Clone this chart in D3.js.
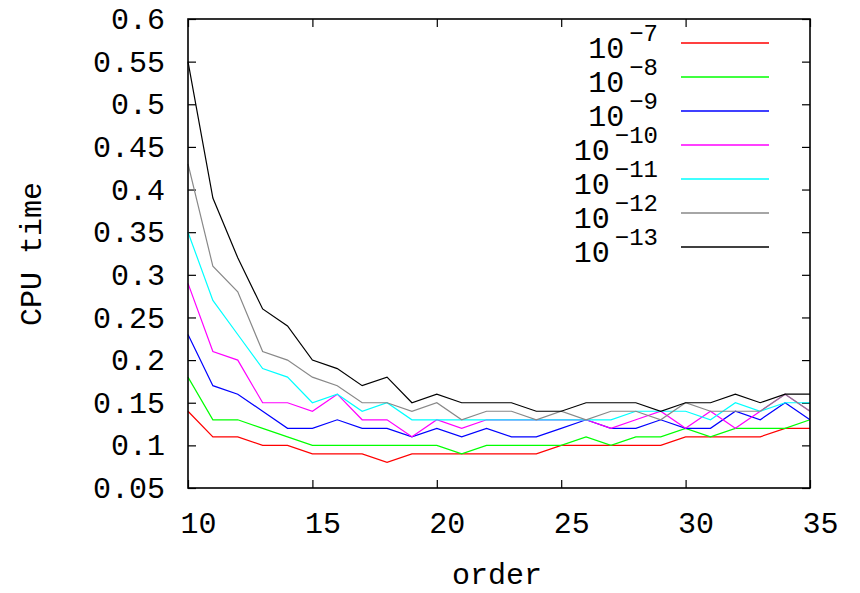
<!DOCTYPE html>
<html>
<head>
<meta charset="utf-8">
<script src="https://cdn.jsdelivr.net/npm/d3@7"></script>
<style>
  html, body { margin: 0; padding: 0; background: #fff; }
  svg text { font-family: "Liberation Mono", "DejaVu Sans Mono", monospace; fill: #000; }
</style>
</head>
<body>
<div id="chart"></div>
<script>
// chart data
const orders = d3.range(10, 36);
const tolLabels = ["-7", "-8", "-9", "-10", "-11", "-12", "-13"];
const tolColors = ["#ff0000", "#00ff00", "#0000ff", "#ff00ff", "#00ffff", "#888888", "#000000"];

const tol7  = [0.14,0.11,0.11,0.10,0.10,0.09,0.09,0.09,0.08,0.09,0.09,0.09,0.09,0.09,0.09,0.10,0.10,0.10,0.10,0.10,0.11,0.11,0.11,0.11,0.12,0.12];
const tol8  = [0.18,0.13,0.13,0.12,0.11,0.10,0.10,0.10,0.10,0.10,0.10,0.09,0.10,0.10,0.10,0.10,0.11,0.10,0.11,0.11,0.12,0.11,0.12,0.12,0.12,0.13];
const tol9  = [0.23,0.17,0.16,0.14,0.12,0.12,0.13,0.12,0.12,0.11,0.12,0.11,0.12,0.11,0.11,0.12,0.13,0.12,0.12,0.13,0.12,0.12,0.14,0.13,0.15,0.13];
const tol10 = [0.29,0.21,0.20,0.15,0.15,0.14,0.16,0.13,0.13,0.11,0.13,0.12,0.13,0.13,0.13,0.13,0.13,0.12,0.13,0.14,0.12,0.14,0.12,0.14,0.16,0.14];
const tol11 = [0.35,0.27,0.23,0.19,0.18,0.15,0.16,0.14,0.15,0.13,0.13,0.13,0.13,0.13,0.13,0.13,0.13,0.13,0.14,0.14,0.14,0.13,0.15,0.14,0.15,0.15];
const tol12 = [0.43,0.31,0.28,0.21,0.20,0.18,0.17,0.15,0.15,0.14,0.15,0.13,0.14,0.14,0.13,0.14,0.13,0.14,0.14,0.13,0.15,0.14,0.14,0.14,0.16,0.14];
const tol13 = [0.55,0.39,0.32,0.26,0.24,0.20,0.19,0.17,0.18,0.15,0.16,0.15,0.15,0.15,0.14,0.14,0.15,0.15,0.15,0.14,0.15,0.15,0.16,0.15,0.16,0.16];

const xTicks = [10, 15, 20, 25, 30, 35];
const yTicks = [0.05, 0.1, 0.15, 0.2, 0.25, 0.3, 0.35, 0.4, 0.45, 0.5, 0.55, 0.6];

const series = [tol7, tol8, tol9, tol10, tol11, tol12, tol13];

// size of the svg and plot frame
const width = 860, height = 593;
const plotLeft = 188, plotRight = 810, plotTop = 19, plotBottom = 488;
const fontSize = 30;

const svg = d3.select('#chart')
  .append('svg')
  .attr('width', width)
  .attr('height', height);

const x = d3.scaleLinear().domain([10, 35]).range([plotLeft, plotRight]);
const y = d3.scaleLinear().domain([0.05, 0.6]).range([plotBottom, plotTop]);

const fmt = d => String(+d.toFixed(2));

// bottom axis with labels
svg.append('g')
  .attr('transform', `translate(0,${plotBottom})`)
  .call(d3.axisBottom(x).tickValues(xTicks).tickSizeInner(-8).tickSizeOuter(0).tickPadding(24).tickFormat(fmt))
  .call(g => g.select('.domain').remove())
  .call(g => g.selectAll('text').attr('font-size', fontSize).attr('dx', 10).attr('font-family', null));

// left axis with labels
svg.append('g')
  .attr('transform', `translate(${plotLeft},0)`)
  .call(d3.axisLeft(y).tickValues(yTicks).tickSizeInner(-8).tickSizeOuter(0).tickPadding(23).tickFormat(fmt))
  .call(g => g.select('.domain').remove())
  .call(g => g.selectAll('text').attr('font-size', fontSize).attr('font-family', null));

// mirrored ticks on top and right
svg.append('g')
  .attr('transform', `translate(0,${plotTop})`)
  .call(d3.axisTop(x).tickValues(xTicks).tickSizeInner(-8).tickSizeOuter(0).tickFormat(''))
  .call(g => g.select('.domain').remove());

svg.append('g')
  .attr('transform', `translate(${plotRight},0)`)
  .call(d3.axisRight(y).tickValues(yTicks).tickSizeInner(-8).tickSizeOuter(0).tickFormat(''))
  .call(g => g.select('.domain').remove());

svg.selectAll('.tick line').attr('stroke', '#000').attr('stroke-width', 1.2);

// data lines
const line = d3.line()
  .x((d, i) => x(orders[i]))
  .y(d => y(d));

svg.append('g')
  .selectAll('path')
  .data(series)
  .enter()
  .append('path')
  .attr('d', d => line(d))
  .attr('fill', 'none')
  .attr('stroke', (d, i) => tolColors[i])
  .attr('stroke-width', 1.2);

// frame
svg.append('rect')
  .attr('x', plotLeft)
  .attr('y', plotTop)
  .attr('width', plotRight - plotLeft)
  .attr('height', plotBottom - plotTop)
  .attr('fill', 'none')
  .attr('stroke', '#000')
  .attr('stroke-width', 1.6);

// legend
const legendY0 = 43, legendStep = 34;
tolLabels.forEach((label, i) => {
  let g = svg.append('g')
    .attr('transform', `translate(0,${legendY0 + i * legendStep})`);

  g.append('line')
    .attr('x1', 681)
    .attr('x2', 769)
    .attr('y1', 0)
    .attr('y2', 0)
    .style('stroke', tolColors[i])
    .style('stroke-width', 1.6);

  let t = g.append('text')
    .attr('x', 658)
    .attr('y', 15)
    .attr('text-anchor', 'end')
    .attr('font-size', fontSize);
  t.append('tspan').text('10');
  t.append('tspan')
    .attr('dx', 5)
    .attr('dy', -17)
    .attr('font-size', fontSize * 0.8)
    .text(label.replace('-', '\u2212'));
});

// axis titles
svg.append('text')
  .attr('x', 497)
  .attr('y', 584)
  .attr('text-anchor', 'middle')
  .attr('font-size', fontSize)
  .text('order');

svg.append('text')
  .attr('transform', 'translate(41,254) rotate(-90)')
  .attr('text-anchor', 'middle')
  .attr('font-size', fontSize)
  .text('CPU time');
</script>
</body>
</html>
